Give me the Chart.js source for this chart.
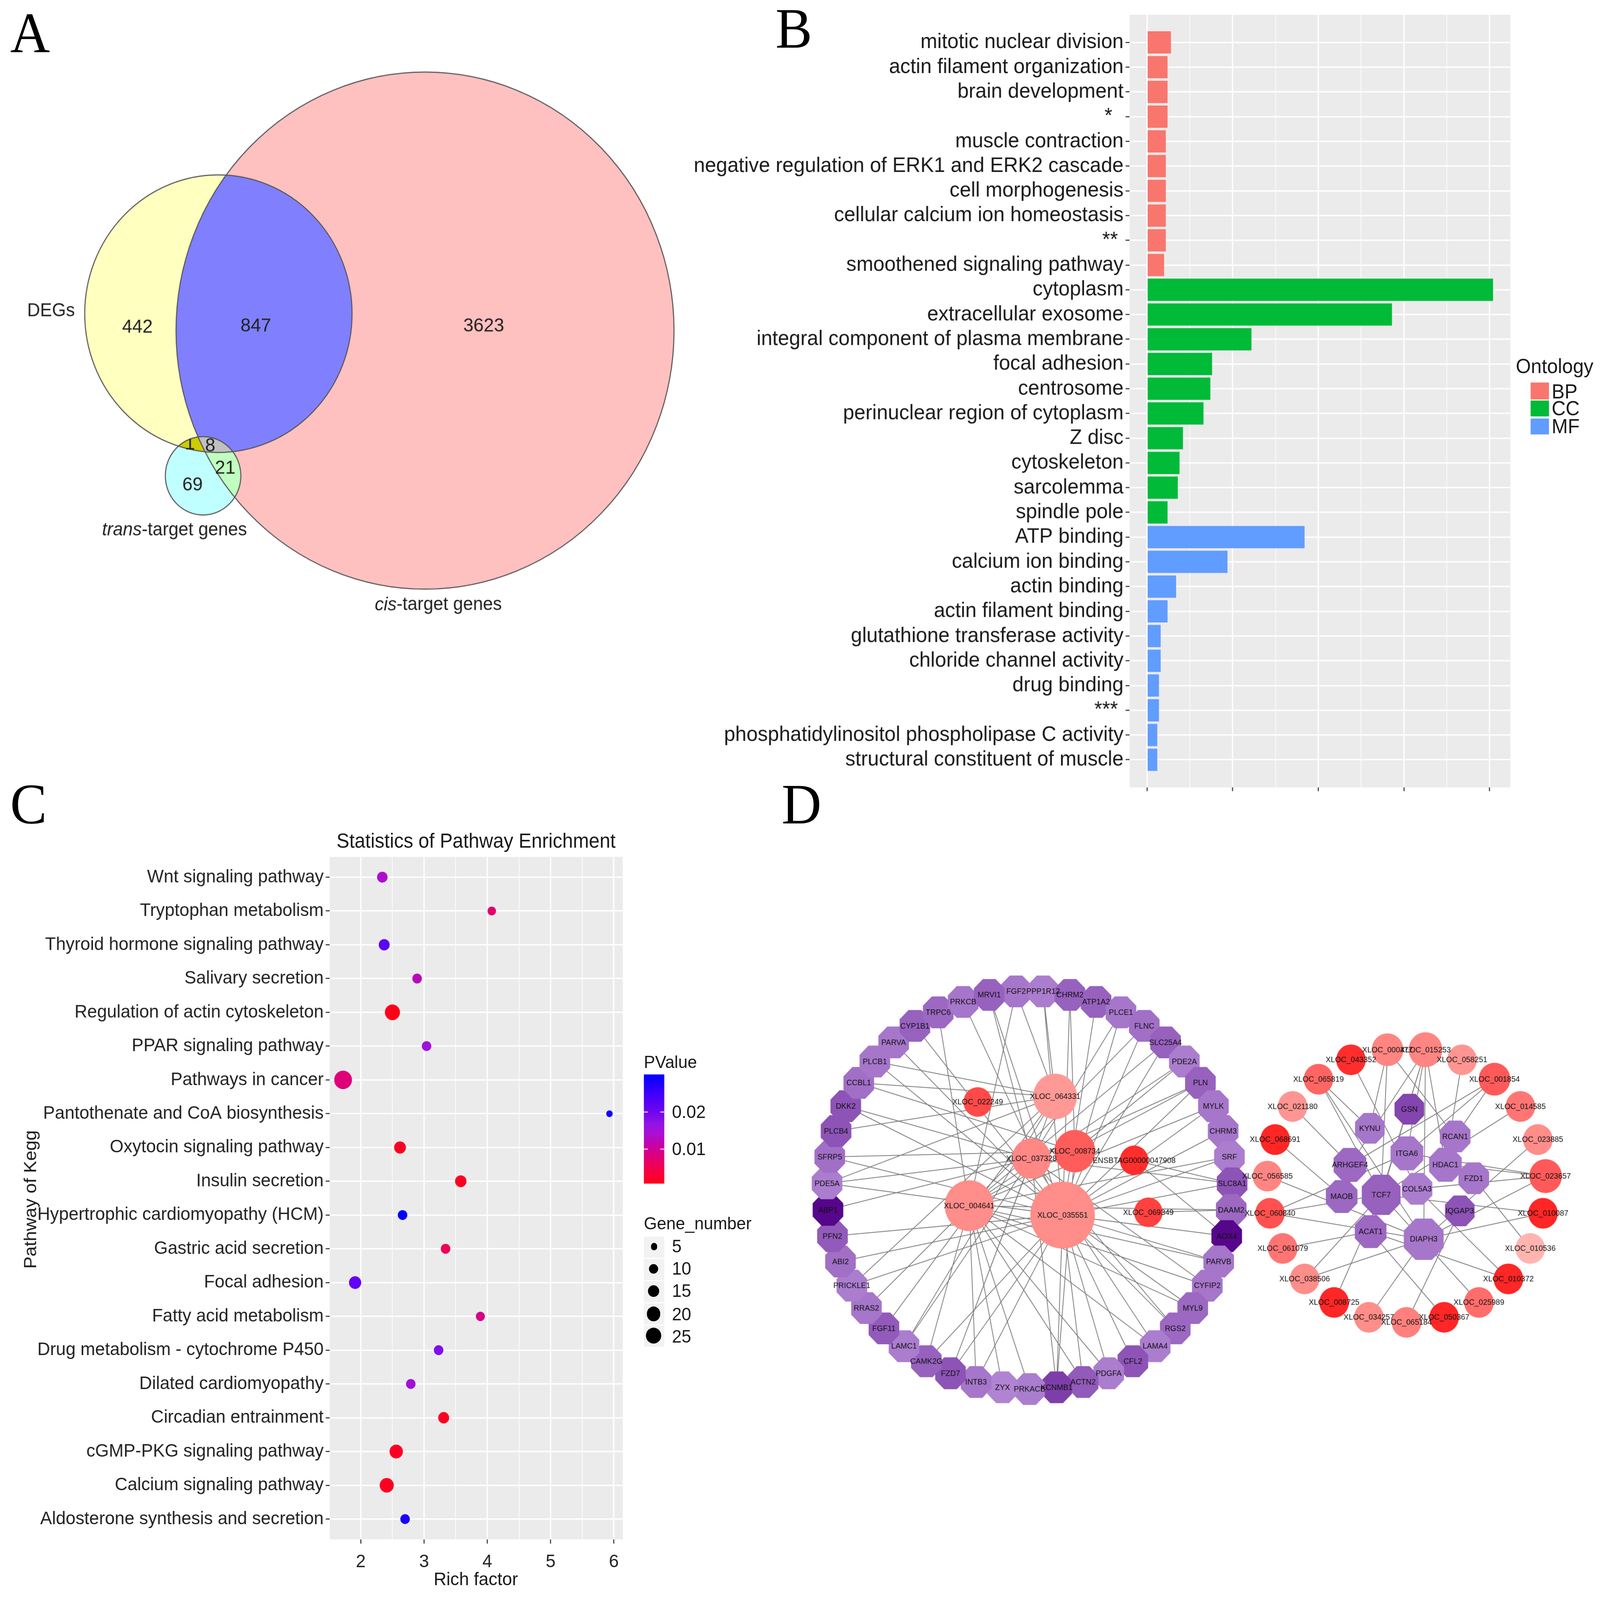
<!DOCTYPE html>
<html>
<head>
<meta charset="utf-8">
<title>Figure</title>
<script src="https://cdn.jsdelivr.net/npm/chart.js@4.4.1/dist/chart.umd.min.js"></script>
<style>
html,body{margin:0;padding:0;background:#ffffff;}
body{width:100vw;height:100vh;overflow:hidden;position:relative;}
#root{position:absolute;left:0;top:0;width:1568px;height:1510px;transform-origin:0 0;font-family:'Liberation Sans',Arial,sans-serif;color:#1a1a1a;}
.t{position:absolute;white-space:nowrap;line-height:1;}
.letter{position:absolute;font-family:'Liberation Serif','Times New Roman',serif;font-size:54px;line-height:1;color:#000;}
canvas{position:absolute;display:block;}
.sw{position:absolute;}
</style>
</head>
<body>
<div id="root">
  <canvas id="chartA" width="720" height="560" style="left:0px;top:40px"></canvas>
  <canvas id="chartB" width="820" height="770" style="left:670px;top:0px"></canvas>
  <canvas id="chartC" width="620" height="730" style="left:0px;top:780px"></canvas>
  <canvas id="chartD" width="828" height="500" style="left:740px;top:880px"></canvas>
  <div class="letter" style="left:10px;top:4px">A</div>
  <div class="letter" style="left:760px;top:0px">B</div>
  <div class="letter" style="left:10px;top:732px">C</div>
  <div class="letter" style="left:766px;top:732px">D</div>
</div>
<script>
// ===================== DATA =====================
// ---- Panel A : Venn ----
const vennSetNames = ['DEGs', 'cis-target genes', 'trans-target genes'];
const vennRegionCounts = ['442', '847', '3623', '69', '21', '1', '8'];

// ---- Panel B : GO terms ----
const goTerms = ['mitotic nuclear division', 'actin filament organization', 'brain development', '*  ',
  'muscle contraction', 'negative regulation of ERK1 and ERK2 cascade', 'cell morphogenesis',
  'cellular calcium ion homeostasis', '** ', 'smoothened signaling pathway', 'cytoplasm',
  'extracellular exosome', 'integral component of plasma membrane', 'focal adhesion', 'centrosome',
  'perinuclear region of cytoplasm', 'Z disc', 'cytoskeleton', 'sarcolemma', 'spindle pole',
  'ATP binding', 'calcium ion binding', 'actin binding', 'actin filament binding',
  'glutathione transferase activity', 'chloride channel activity', 'drug binding', '*** ',
  'phosphatidylinositol phospholipase C activity', 'structural constituent of muscle'];
const goCounts = [14, 12, 12, 12, 11, 11, 11, 11, 11, 10, 202, 143, 61, 38, 37, 33, 21, 19, 18, 12,
  92, 47, 17, 12, 8, 8, 7, 7, 6, 6];
const goOntology = ['BP','BP','BP','BP','BP','BP','BP','BP','BP','BP',
  'CC','CC','CC','CC','CC','CC','CC','CC','CC','CC',
  'MF','MF','MF','MF','MF','MF','MF','MF','MF','MF'];
const ontologyLevels = ['BP', 'CC', 'MF'];

// ---- Panel C : KEGG ----
const keggPathways = ['Wnt signaling pathway', 'Tryptophan metabolism', 'Thyroid hormone signaling pathway',
  'Salivary secretion', 'Regulation of actin cytoskeleton', 'PPAR signaling pathway', 'Pathways in cancer',
  'Pantothenate and CoA biosynthesis', 'Oxytocin signaling pathway', 'Insulin secretion',
  'Hypertrophic cardiomyopathy (HCM)', 'Gastric acid secretion', 'Focal adhesion', 'Fatty acid metabolism',
  'Drug metabolism - cytochrome P450', 'Dilated cardiomyopathy', 'Circadian entrainment',
  'cGMP-PKG signaling pathway', 'Calcium signaling pathway', 'Aldosterone synthesis and secretion'];
const keggRichFactor = [2.34, 4.07, 2.37, 2.89, 2.50, 3.04, 1.72, 5.93, 2.62, 3.58, 2.66, 3.34, 1.91, 3.89,
  3.23, 2.79, 3.31, 2.56, 2.41, 2.70];
const keggGeneNumber = [12, 8, 13, 10, 24, 10, 33, 5, 15, 14, 10, 10, 16, 9, 10, 10, 13, 19, 21, 10];
const keggPValue = [0.0135, 0.0071, 0.0218, 0.0124, 0.0006, 0.0153, 0.0080, 0.0285, 0.0015, 0.0012, 0.0300,
  0.0056, 0.0212, 0.0088, 0.0182, 0.0150, 0.0012, 0.0015, 0.0012, 0.0280];
const pvalueBreaks = [0.01, 0.02];
const geneNumberBreaks = [5, 10, 15, 20, 25];

// ---- Panel D : networks ----
const leftRingGenes = ['FGF2','PPP1R12','CHRM2','ATP1A2','PLCE1','FLNC','SLC25A4','PDE2A','PLN','MYLK',
  'CHRM3','SRF','SLC8A1','DAAM2','AOX4','PARVB','CYFIP2','MYL9','RGS2','LAMA4','CFL2','PDGFA','ACTN2',
  'KCNMB1','PRKACB','ZYX','INTB3','FZD7','CAMK2G','LAMC1','FGF11','RRAS2','PRICKLE1','ABI2','PFN2','ABP1',
  'PDE5A','SFRP5','PLCB4','DKK2','CCBL1','PLCB1','PARVA','CYP1B1','TRPC6','PRKCB','MRVI1'];
const leftRingScore = [0.2,0.15,0.35,0.35,0.2,0.25,0.35,0.15,0.35,0.2,0.2,0.15,0.45,0.3,1.0,0.2,0.2,0.3,
  0.3,0.15,0.45,0.15,0.4,0.6,0.15,0.1,0.2,0.45,0.35,0.15,0.4,0.2,0.15,0.25,0.4,1.0,0.15,0.25,0.45,0.45,
  0.25,0.2,0.2,0.35,0.3,0.2,0.35];
const leftHubs = ['XLOC_064331','XLOC_022249','XLOC_008734','XLOC_037328','ENSBTAG00000047908',
  'XLOC_004641','XLOC_035551','XLOC_069349'];
const leftHubScore = [0.22, 0.72, 0.6, 0.33, 0.9, 0.3, 0.3, 0.78];
const leftEdges = [
  ['FGF2','XLOC_064331'],['FGF2','XLOC_004641'],['PPP1R12','XLOC_064331'],['PPP1R12','XLOC_035551'],
  ['CHRM2','XLOC_035551'],['CHRM2','XLOC_008734'],['ATP1A2','XLOC_035551'],['PLCE1','XLOC_035551'],
  ['PLCE1','XLOC_037328'],['FLNC','XLOC_035551'],['FLNC','XLOC_004641'],['SLC25A4','XLOC_035551'],
  ['SLC25A4','XLOC_004641'],['PDE2A','XLOC_008734'],['PDE2A','XLOC_004641'],['PLN','XLOC_035551'],
  ['PLN','XLOC_037328'],['MYLK','XLOC_035551'],['MYLK','XLOC_004641'],['CHRM3','XLOC_035551'],
  ['SRF','XLOC_035551'],['SRF','XLOC_004641'],['SLC8A1','XLOC_035551'],['SLC8A1','XLOC_037328'],
  ['SLC8A1','ENSBTAG00000047908'],['DAAM2','XLOC_069349'],['DAAM2','XLOC_004641'],['AOX4','XLOC_035551'],
  ['AOX4','ENSBTAG00000047908'],['PARVB','XLOC_035551'],['PARVB','XLOC_004641'],['CYFIP2','XLOC_037328'],
  ['MYL9','XLOC_004641'],['RGS2','XLOC_035551'],['LAMA4','XLOC_004641'],['LAMA4','XLOC_037328'],
  ['CFL2','XLOC_035551'],['PDGFA','XLOC_004641'],['ACTN2','XLOC_035551'],['ACTN2','XLOC_004641'],
  ['KCNMB1','XLOC_035551'],['KCNMB1','XLOC_008734'],['KCNMB1','XLOC_037328'],['PRKACB','XLOC_004641'],
  ['ZYX','XLOC_004641'],['INTB3','XLOC_035551'],['INTB3','XLOC_004641'],['FZD7','XLOC_035551'],
  ['FZD7','XLOC_037328'],['FZD7','XLOC_064331'],['CAMK2G','XLOC_004641'],['CAMK2G','XLOC_035551'],
  ['LAMC1','XLOC_037328'],['LAMC1','XLOC_064331'],['FGF11','XLOC_064331'],['RRAS2','XLOC_004641'],
  ['PRICKLE1','XLOC_064331'],['PRICKLE1','XLOC_035551'],['ABI2','XLOC_035551'],['PFN2','XLOC_035551'],
  ['ABP1','XLOC_037328'],['PDE5A','XLOC_035551'],['PDE5A','XLOC_064331'],['PDE5A','XLOC_037328'],
  ['SFRP5','XLOC_008734'],['PLCB4','XLOC_064331'],['DKK2','XLOC_037328'],['DKK2','XLOC_035551'],
  ['CCBL1','XLOC_064331'],['PLCB1','XLOC_064331'],['PLCB1','XLOC_035551'],['PARVA','XLOC_035551'],
  ['CYP1B1','XLOC_035551'],['TRPC6','XLOC_004641'],['PRKCB','XLOC_035551'],['MRVI1','XLOC_035551'],
  ['MRVI1','XLOC_037328'],['CCBL1','XLOC_008734'],['SFRP5','XLOC_035551'],['PLN','XLOC_004641'],
  ['MYL9','XLOC_035551'],['CYFIP2','XLOC_004641'],['RGS2','XLOC_037328'],['PDGFA','XLOC_035551']];

const rightRingLnc = ['XLOC_000477','XLOC_015253','XLOC_058251','XLOC_001854','XLOC_014585','XLOC_023885',
  'XLOC_023657','XLOC_010087','XLOC_010536','XLOC_010372','XLOC_025989','XLOC_050367','XLOC_065184',
  'XLOC_034257','XLOC_008725','XLOC_038506','XLOC_061079','XLOC_060840','XLOC_056585','XLOC_068691',
  'XLOC_021180','XLOC_065819','XLOC_043352'];
const rightRingScore = [0.35,0.35,0.25,0.62,0.45,0.3,0.62,0.95,0.05,0.95,0.5,0.95,0.38,0.3,0.95,0.3,0.45,
  0.68,0.35,0.95,0.25,0.55,0.9];
const rightHubGenes = ['GSN','KYNU','RCAN1','ITGA6','ARHGEF4','HDAC1','FZD1','MAOB','TCF7','COL5A3',
  'IQGAP3','ACAT1','DIAPH3'];
const rightHubScore = [0.55,0.2,0.2,0.2,0.3,0.2,0.2,0.3,0.35,0.15,0.45,0.3,0.2];
const rightEdges = [
  ['XLOC_000477','TCF7'],['XLOC_000477','KYNU'],['XLOC_000477','RCAN1'],['XLOC_043352','COL5A3'],
  ['XLOC_015253','ARHGEF4'],['XLOC_015253','TCF7'],['XLOC_015253','ITGA6'],['XLOC_015253','DIAPH3'],
  ['XLOC_015253','HDAC1'],['XLOC_015253','ACAT1'],['XLOC_058251','HDAC1'],['XLOC_001854','ITGA6'],
  ['XLOC_001854','RCAN1'],['XLOC_001854','ARHGEF4'],['XLOC_014585','TCF7'],['XLOC_023885','DIAPH3'],
  ['XLOC_023657','ITGA6'],['XLOC_023657','HDAC1'],['XLOC_023657','COL5A3'],['XLOC_023657','DIAPH3'],
  ['XLOC_010087','TCF7'],['XLOC_010087','DIAPH3'],['XLOC_010536','FZD1'],['XLOC_010372','COL5A3'],
  ['XLOC_010372','ACAT1'],['XLOC_025989','TCF7'],['XLOC_050367','ACAT1'],['XLOC_065184','IQGAP3'],
  ['XLOC_034257','DIAPH3'],['XLOC_008725','TCF7'],['XLOC_038506','DIAPH3'],['XLOC_038506','TCF7'],
  ['XLOC_061079','ACAT1'],['XLOC_060840','ITGA6'],['XLOC_060840','TCF7'],['XLOC_060840','DIAPH3'],
  ['XLOC_056585','DIAPH3'],['XLOC_068691','MAOB'],['XLOC_021180','ARHGEF4'],['XLOC_065819','KYNU'],
  ['XLOC_065819','TCF7'],['XLOC_065819','DIAPH3']];

// ===================== LAYOUT / STYLE (not data) =====================
const FONT = "'Liberation Sans', Arial, sans-serif";
Chart.defaults.font.family = FONT;
const root = document.getElementById('root');
const VW = window.innerWidth || document.documentElement.clientWidth || 4320;
const VH = window.innerHeight || document.documentElement.clientHeight || 4159;
const SX = VW / 1568, SY = VH / 1510;
root.style.transform = 'scale(' + SX + ',' + SY + ')';
const DPR = Math.max(SX, SY) * (window.devicePixelRatio || 1);

// Venn layout in chart units (1 unit = 100 layout px)
const vennCircleLayout = [{x: 4.165, y: 3.12, r: 2.44}, {x: 2.14, y: 2.96, r: 1.31}, {x: 1.99, y: 4.49, r: 0.37}]; // cis, DEGs, trans
const vennCircleFill = ['#FFC0C0', '#FFFFC0', '#C0FFFF'];
const vennRegionPos = [[1.346, 3.09], [2.507, 3.08], [4.74, 3.08], [1.887, 4.58], [2.207, 4.42], [1.86, 4.19], [2.06, 4.21]];
const vennSetLabelPos = [[0.50, 2.935], [4.295, 5.71], [1.71, 5.005]];

// Network layout (1 unit = left ring radius)
const leftRing = {cx: 0, cy: 0, R: 1};
const rightRing = {cx: 1.860, cy: -0.023, R: 0.688};
const leftHubPos = [[0.126,-0.470],[-0.256,-0.442],[0.223,-0.195],[0.009,-0.158],[0.516,-0.149],
  [-0.298,0.079],[0.163,0.126],[0.586,0.112]];
const leftHubSize = [21.5, 14, 20, 19, 14, 24, 31.6, 14];
const rightHubPos = [[1.874,-0.406],[1.679,-0.310],[2.100,-0.269],[1.862,-0.184],[1.581,-0.126],
  [2.052,-0.127],[2.192,-0.059],[1.540,0.033],[1.735,0.024],[1.912,-0.006],[2.123,0.105],[1.683,0.209],[1.945,0.247]];
const rightHubSize = [14.5, 14.5, 15, 16, 16, 16, 15, 15.5, 19, 15, 14.5, 15.5, 19.5];
const rightRingSize = [15.5,16.5,14.5,15.5,14.5,14.5,16,14.5,14.5,14.5,14.5,14.5,14.5,14.5,14.5,14.5,14.5,14.5,14.5,14.5,14.5,14.5,14.5];
const leftRingApothem = 15;

function mix(c0, c1, t) { return 'rgb(' + c0.map((v, i) => Math.round(v + (c1[i] - v) * t)).join(',') + ')'; }
const purpleOf = s => mix([186,146,218], [86,6,138], s);
const redOf = s => mix([255,188,184], [255,30,30], s);

// PValue colour ramp (low = red, high = blue), stops sampled as a style
const rampStops = [[0, [255,0,25]], [0.12, [245,0,70]], [0.25, [222,0,120]], [0.34, [200,0,160]],
  [0.45, [172,15,210]], [0.55, [145,20,228]], [0.66, [110,5,240]], [0.8, [70,0,250]], [1, [0,0,255]]];
function gradColor(t) {
  t = Math.max(0, Math.min(1, t));
  for (let k = 1; k < rampStops.length; k++) {
    if (t <= rampStops[k][0]) {
      const [t0, c0] = rampStops[k - 1], [t1, c1] = rampStops[k];
      return mix(c0, c1, (t - t0) / (t1 - t0));
    }
  }
  return mix(rampStops[rampStops.length - 1][1], rampStops[rampStops.length - 1][1], 0);
}

// ---------- helpers ----------
function addText(txt, x, baseline, size, opts = {}) {
  const d = document.createElement('div');
  d.className = 't';
  d.textContent = txt;
  d.style.fontSize = size + 'px';
  d.style.top = (baseline - 0.8465 * size) + 'px';
  d.style.left = x + 'px';
  if (opts.align === 'center') d.style.transform = 'translateX(-50%)';
  if (opts.color) d.style.color = opts.color;
  root.appendChild(d);
  return d;
}
function addBox(x, y, w, h, bg) {
  const d = document.createElement('div');
  d.className = 'sw';
  Object.assign(d.style, {left: x + 'px', top: y + 'px', width: w + 'px', height: h + 'px', background: bg});
  root.appendChild(d);
  return d;
}
const baseOpts = {responsive: false, animation: false, devicePixelRatio: DPR, events: [],
  plugins: {legend: {display: false}, tooltip: {enabled: false}}};

// ===================== PANEL A =====================
const vennPlugin = {
  id: 'venn',
  afterDatasetsDraw(chart) {
    const ctx = chart.ctx;
    const [cis, deg, trans] = chart.getDatasetMeta(0).data;
    const path = el => { ctx.beginPath(); ctx.arc(el.x, el.y, el.options.radius, 0, Math.PI * 2); ctx.closePath(); };
    const fillIn = (clips, target, color) => {
      ctx.save(); clips.forEach(c => { path(c); ctx.clip(); }); path(target); ctx.fillStyle = color; ctx.fill(); ctx.restore();
    };
    fillIn([deg], cis, '#8080FF');
    fillIn([trans], cis, '#C0FFC0');
    fillIn([trans], deg, '#CCCC00');
    fillIn([trans, deg], cis, '#C0C0C0');
    ctx.save(); ctx.strokeStyle = '#555'; ctx.lineWidth = 1;
    [cis, deg, trans].forEach(e => { path(e); ctx.stroke(); });
    ctx.restore();
    const sx = chart.scales.x, sy = chart.scales.y;
    ctx.save();
    ctx.fillStyle = '#222'; ctx.textAlign = 'center'; ctx.textBaseline = 'middle';
    ctx.font = '18px ' + FONT;
    vennRegionCounts.forEach((t, i) => {
      const [ux, uy] = vennRegionPos[i];
      ctx.save();
      if (i >= 5) { path(trans); ctx.clip(); }
      ctx.fillText(t, sx.getPixelForValue(ux), sy.getPixelForValue(uy));
      ctx.restore();
    });
    ctx.font = '17.5px ' + FONT;
    ctx.fillText(vennSetNames[0], sx.getPixelForValue(vennSetLabelPos[0][0]), sy.getPixelForValue(vennSetLabelPos[0][1]));
    [1, 2].forEach(k => {
      const name = vennSetNames[k];
      const cut = name.indexOf('-');
      const it = name.slice(0, cut), rest = name.slice(cut);
      ctx.font = 'italic 17.5px ' + FONT; const w1 = ctx.measureText(it).width;
      ctx.font = '17.5px ' + FONT; const w2 = ctx.measureText(rest).width;
      const cx = sx.getPixelForValue(vennSetLabelPos[k][0]), cy = sy.getPixelForValue(vennSetLabelPos[k][1]);
      ctx.textAlign = 'left';
      ctx.font = 'italic 17.5px ' + FONT; ctx.fillText(it, cx - (w1 + w2) / 2, cy);
      ctx.font = '17.5px ' + FONT; ctx.fillText(rest, cx - (w1 + w2) / 2 + w1, cy);
      ctx.textAlign = 'center';
    });
    ctx.restore();
  }
};
new Chart(document.getElementById('chartA'), {
  type: 'scatter',
  data: {datasets: [{
    data: vennCircleLayout.map(c => ({x: c.x, y: c.y})),
    pointRadius: (c) => {
      const s = c.chart.scales.x; if (!s) return 0;
      const L = vennCircleLayout[c.dataIndex];
      return Math.abs(s.getPixelForValue(L.r) - s.getPixelForValue(0));
    },
    pointBackgroundColor: vennCircleFill, pointBorderWidth: 0, clip: false
  }]},
  options: Object.assign({}, baseOpts, {
    layout: {padding: 0},
    scales: {
      x: {type: 'linear', display: false, min: 0, max: 7.2},
      y: {type: 'linear', display: false, min: 0.4, max: 6.0, reverse: true}
    }
  }),
  plugins: [vennPlugin]
});

// ===================== PANEL B =====================
const ontologyColor = {BP: '#F8766D', CC: '#00BA38', MF: '#619CFF'};
const panelBg = {id: 'panelBg', beforeDraw(chart) {
  const {ctx, chartArea: a} = chart; ctx.save(); ctx.fillStyle = '#EBEBEB';
  ctx.fillRect(a.left, a.top, a.right - a.left, a.bottom - a.top); ctx.restore(); }};
const isMult = (v, m) => Math.abs(v / m - Math.round(v / m)) < 1e-6;
const goMax = Math.max(...goCounts);
new Chart(document.getElementById('chartB'), {
  type: 'bar',
  data: {datasets: [{
    data: goCounts.map((v, i) => ({x: v, y: i})),
    backgroundColor: goOntology.map(o => ontologyColor[o]),
    borderWidth: 0, barPercentage: 0.9, categoryPercentage: 1.0
  }]},
  options: Object.assign({}, baseOpts, {
    indexAxis: 'y',
    layout: {padding: {top: 12.6, right: 10, left: 0, bottom: 0}},
    scales: {
      x: {type: 'linear', min: -0.05 * goMax, max: 1.05 * goMax, border: {display: false},
        afterFit: s => { s.height = 770 - 742.9; },
        ticks: {stepSize: 25, includeBounds: false, autoSkip: false, maxRotation: 0, callback: () => '', padding: 2},
        grid: {color: '#ffffff', lineWidth: c => (c.tick && isMult(c.tick.value, 50)) ? 1.3 : 0.65,
          tickColor: c => (c.tick && isMult(c.tick.value, 50)) ? '#333333' : 'rgba(0,0,0,0)',
          tickLength: 3.5, tickWidth: 1, offset: false}},
      y: {type: 'linear', min: -0.6, max: goTerms.length - 0.4, reverse: true, border: {display: false},
        afterFit: s => { s.width = 1107 - 670; },
        ticks: {stepSize: 1, includeBounds: false, autoSkip: false, color: '#1a1a1a', padding: 2,
          font: {size: 19.8}, callback: v => goTerms[v] !== undefined ? goTerms[v] : ''},
        grid: {color: '#ffffff', lineWidth: 1.3, tickColor: '#333333', tickLength: 4, tickWidth: 1, offset: false}}
    }
  }),
  plugins: [panelBg]
});
addText('Ontology', 1485.5, 352.3, 19);
ontologyLevels.forEach((o, i) => {
  const top = 361.3 + i * 16.6;
  addBox(1499.7, top, 18.7, 15.6, ontologyColor[o]);
  addText(o, 1520.6, top + 7.8 + 0.36 * 19, 19);
});

// ===================== PANEL C =====================
const pMin = Math.min(...keggPValue), pMax = Math.max(...keggPValue);
const pColor = p => gradColor((p - pMin) / (pMax - pMin));
const sizeRadius = n => Math.sqrt(9.4 * n - 7) / 2;
const rfMin = Math.min(...keggRichFactor), rfMax = Math.max(...keggRichFactor), rfPad = 0.05 * (rfMax - rfMin);
new Chart(document.getElementById('chartC'), {
  type: 'scatter',
  data: {datasets: [{
    data: keggRichFactor.map((v, i) => ({x: v, y: i})),
    pointRadius: keggGeneNumber.map(sizeRadius),
    pointBackgroundColor: keggPValue.map(pColor),
    pointBorderWidth: 0, clip: false
  }]},
  options: Object.assign({}, baseOpts, {
    layout: {padding: {top: 808.7 - 780, right: 10, left: 0, bottom: 0}},
    scales: {
      x: {type: 'linear', min: rfMin - rfPad, max: rfMax + rfPad, border: {display: false},
        afterFit: s => { s.height = 730 - (1452.7 - 780); },
        ticks: {stepSize: 0.5, includeBounds: false, autoSkip: false, maxRotation: 0, color: '#222', padding: 7,
          font: {size: 17.3}, callback: v => isMult(v, 1) ? String(Math.round(v)) : ''},
        grid: {color: '#ffffff', lineWidth: c => (c.tick && isMult(c.tick.value, 1)) ? 1.3 : 0.65,
          tickColor: c => (c.tick && isMult(c.tick.value, 1)) ? '#333333' : 'rgba(0,0,0,0)',
          tickLength: 4, tickWidth: 1, offset: false}},
      y: {type: 'linear', min: -0.6, max: keggPathways.length - 0.4, reverse: true, border: {display: false},
        afterFit: s => { s.width = 323; },
        ticks: {stepSize: 1, includeBounds: false, autoSkip: false, color: '#222', padding: 2,
          font: {size: 17.3}, callback: v => keggPathways[v] !== undefined ? keggPathways[v] : ''},
        grid: {color: '#ffffff', lineWidth: 1.3, tickColor: '#333333', tickLength: 4, tickWidth: 1, offset: false}}
    }
  }),
  plugins: [panelBg]
});
addText('Statistics of Pathway Enrichment', 466.5, 800.8, 18.8, {align: 'center'});
addText('Rich factor', 466.3, 1496.5, 17.3, {align: 'center'});
(function () {
  const d = document.createElement('div');
  d.className = 't'; d.textContent = 'Pathway of Kegg'; d.style.fontSize = '17.3px';
  d.style.left = '30.4px'; d.style.top = '1131.6px';
  d.style.transform = 'translate(-50%,-50%) rotate(-90deg)';
  root.appendChild(d);
})();
addText('PValue', 631, 1007.6, 16.5);
const cbTop = 1014.3, cbH = 103, cbLeft = 631, cbW = 20.4;
const stops = [];
for (let k = 0; k <= 20; k++) stops.push(gradColor(k / 20) + ' ' + (k * 5) + '%');
addBox(cbLeft, cbTop, cbW, cbH, 'linear-gradient(to top,' + stops.join(',') + ')');
pvalueBreaks.forEach(b => {
  const y = cbTop + cbH - (b - pMin) / (pMax - pMin) * cbH;
  addBox(cbLeft, y - 0.5, 4, 1, 'rgba(255,255,255,0.85)');
  addBox(cbLeft + cbW - 4, y - 0.5, 4, 1, 'rgba(255,255,255,0.85)');
  addText(String(b), 658.5, y + 0.36 * 17, 17);
});
addText('Gene_number', 631, 1153.8 + 0.36 * 16.5, 16.5);
geneNumberBreaks.forEach((n, i) => {
  const cy = 1176.5 + i * 21.1;
  addBox(631, cy - 10, 19.5, 20, '#F2F2F2');
  const r = sizeRadius(n);
  const dot = addBox(640.7 - r, cy - r, 2 * r, 2 * r, '#000');
  dot.style.borderRadius = '50%';
  addText(String(n), 658.5, cy + 0.36 * 17, 17);
});

// ===================== PANEL D =====================
const ringPos = (ring, i, n) => {
  const a = (i - 0.5) * 2 * Math.PI / n;
  return {x: ring.cx + ring.R * Math.sin(a), y: ring.cy - ring.R * Math.cos(a)};
};
const nodePos = {};
leftRingGenes.forEach((g, i) => nodePos[g] = ringPos(leftRing, i, leftRingGenes.length));
rightRingLnc.forEach((g, i) => nodePos[g] = ringPos(rightRing, i, rightRingLnc.length));
leftHubs.forEach((g, i) => nodePos[g] = {x: leftHubPos[i][0], y: leftHubPos[i][1]});
rightHubGenes.forEach((g, i) => nodePos[g] = {x: rightHubPos[i][0], y: rightHubPos[i][1]});

const edgeData = [];
leftEdges.concat(rightEdges).forEach(([a, b]) => {
  const p = nodePos[a], q = nodePos[b];
  edgeData.push({x: p.x, y: p.y}, {x: q.x, y: q.y}, {x: q.x, y: null});
});
const circleNames = leftHubs.concat(rightRingLnc);
const circleRadius = leftHubSize.concat(rightRingSize);
const circleColor = leftHubScore.concat(rightRingScore).map(redOf);
const octNames = leftRingGenes.concat(rightHubGenes);
const octApothem = leftRingGenes.map(() => leftRingApothem).concat(rightHubSize);
const octColor = leftRingScore.concat(rightHubScore).map(purpleOf);

const netPlugin = {
  id: 'net',
  afterDatasetDraw(chart, args) {
    const ds = chart.data.datasets[args.index];
    if (!ds.isOctagon) return;
    const ctx = chart.ctx;
    ctx.save();
    args.meta.data.forEach((el, i) => {
      const R = octApothem[i] / Math.cos(Math.PI / 8);
      ctx.beginPath();
      for (let k = 0; k < 8; k++) {
        const t = Math.PI / 8 + k * Math.PI / 4;
        const px = el.x + R * Math.cos(t), py = el.y + R * Math.sin(t);
        if (k) ctx.lineTo(px, py); else ctx.moveTo(px, py);
      }
      ctx.closePath(); ctx.fillStyle = octColor[i]; ctx.fill();
    });
    ctx.restore();
  },
  afterDatasetsDraw(chart) {
    const ctx = chart.ctx;
    ctx.save();
    ctx.font = '7.5px ' + FONT; ctx.fillStyle = '#111'; ctx.textAlign = 'center'; ctx.textBaseline = 'middle';
    chart.data.datasets.forEach((ds, di) => {
      if (!ds.nodeNames) return;
      chart.getDatasetMeta(di).data.forEach((el, i) => ctx.fillText(ds.nodeNames[i], el.x, el.y + 0.3));
    });
    ctx.restore();
  }
};
const dUnit = 215;
new Chart(document.getElementById('chartD'), {
  type: 'scatter',
  data: {datasets: [
    {data: edgeData, showLine: true, spanGaps: false, borderColor: '#7a7a7a', borderWidth: 0.75,
      pointRadius: 0, clip: false, order: 3},
    {data: circleNames.map(n => nodePos[n]), nodeNames: circleNames, pointRadius: circleRadius,
      pointBackgroundColor: circleColor, pointBorderWidth: 0, clip: false, order: 2},
    {data: octNames.map(n => nodePos[n]), nodeNames: octNames, isOctagon: true, pointRadius: 0,
      clip: false, order: 1}
  ]},
  options: Object.assign({}, baseOpts, {
    layout: {padding: 0},
    scales: {
      x: {type: 'linear', display: false, min: (740 - 997) / dUnit, max: (1568 - 997) / dUnit},
      y: {type: 'linear', display: false, min: (880 - 1122) / dUnit, max: (1380 - 1122) / dUnit, reverse: true}
    }
  }),
  plugins: [netPlugin]
});
</script>
</body>
</html>
